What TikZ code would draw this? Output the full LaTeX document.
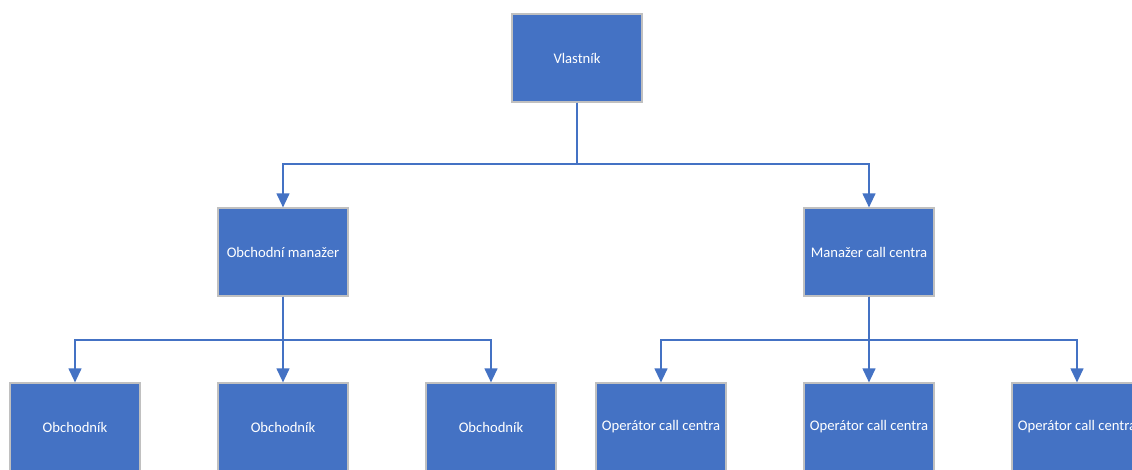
\documentclass[tikz,border=0pt]{standalone}
\usepackage{fontspec}
\setmainfont{Carlito}
\usetikzlibrary{arrows.meta}
\definecolor{boxblue}{HTML}{4472C4}
\definecolor{boxedge}{HTML}{C0C0C0}
\begin{document}
\begin{tikzpicture}[x=0.75pt,y=-0.75pt,
  orgbox/.style={draw=boxedge,line width=0.8pt,fill=boxblue,minimum width=97.5pt,
    minimum height=66pt,inner sep=0pt,text=white,font=\fontsize{11}{13}\selectfont},
  link/.style={draw=boxblue,line width=1.5pt,-{Triangle[length=10.5pt,width=9.5pt]}}]
\path[clip] (0,0) rectangle (1132,469);
\fill[white] (0,0) rectangle (1132,469);
% top level
\node[orgbox] (own) at (577,58) {Vlastník};
% managers
\node[orgbox] (sales) at (283,252) {Obchodní manažer};
\node[orgbox] (ccm) at (869,252) {Manažer call centra};
% staff
\node[orgbox] (s1) at (75,427) {Obchodník};
\node[orgbox] (s2) at (283,427) {Obchodník};
\node[orgbox] (s3) at (491,427) {Obchodník};
\node[orgbox] (o1) at (661,427) {Operátor call centra};
\node[orgbox] (o2) at (869,427) {Operátor call centra};
\node[orgbox] (o3) at (1077,427) {Operátor call centra};
% branch points
\coordinate (b0) at (577,164);
\coordinate (b1) at (283,340);
\coordinate (b2) at (869,340);
% connectors
\draw[link] (own.south) -- (b0) -| (sales.north);
\draw[link] (own.south) -- (b0) -| (ccm.north);
\draw[link] (sales.south) -- (b1) -| (s1.north);
\draw[link] (sales.south) -- (s2.north);
\draw[link] (sales.south) -- (b1) -| (s3.north);
\draw[link] (ccm.south) -- (b2) -| (o1.north);
\draw[link] (ccm.south) -- (o2.north);
\draw[link] (ccm.south) -- (b2) -| (o3.north);
\end{tikzpicture}
\end{document}
